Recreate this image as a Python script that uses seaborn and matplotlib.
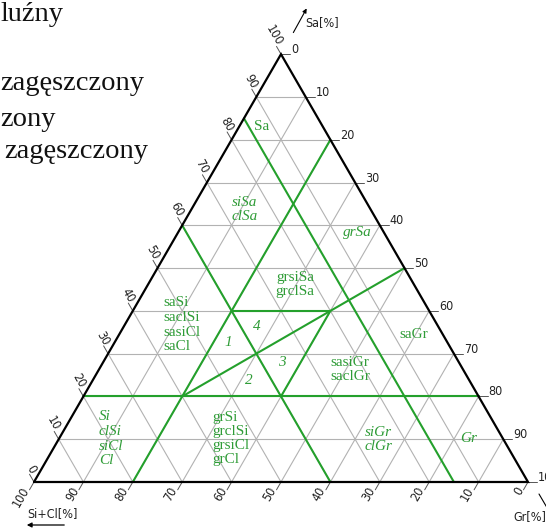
import numpy as np
import pandas as pd
import matplotlib
matplotlib.use("Agg")
import matplotlib.pyplot as plt
import seaborn as sns

sns.set_theme(style="white")
plt.rcParams['font.family'] = ['Liberation Serif', 'DejaVu Serif']

# ---------------- data ----------------
tick_values = list(range(0, 101, 10))          # axis tick labels
grid_values = list(range(10, 100, 10))         # grid lines every 10 %

# class boundaries, given as (Sa, Gr) start and end points in %
boundary_sa_start = [20, 40, 60, 85, 0, 20, 20]
boundary_gr_start = [0, 20, 0, 0, 20, 20, 40]
boundary_sa_end = [20, 40, 0, 0, 80, 50, 40]
boundary_gr_end = [80, 40, 60, 85, 20, 50, 40]

# soil class names (one list per field) and their anchor (Sa, Gr) in %
class_names = [
    ["Sa"], ["siSa", "clSa"], ["grSa"], ["grsiSa", "grclSa"],
    ["saSi", "saclSi", "sasiCl", "saCl"], ["1"], ["2"], ["3"], ["4"],
    ["sasiGr", "saclGr"], ["saGr"], ["Si", "clSi", "siCl", "Cl"],
    ["grSi", "grclSi", "grsiCl", "grCl"], ["siGr", "clGr"], ["Gr"],
]
legend_words = ["luźny", "zagęszczony", "zony", "zagęszczony"]

# ---------------- helpers ----------------
S = np.sqrt(3) / 2
PXU = 494.0  # pixels per triangle side


def to_xy(sa, gr):
    sa = np.asarray(sa, float) / 100.0
    gr = np.asarray(gr, float) / 100.0
    return gr + sa / 2, sa * S


def px(x, y):
    return (x - 34) / PXU, (482 - y) / PXU


fig = plt.figure(figsize=(5.46, 5.30), dpi=100)
ax = fig.add_axes([0, 0, 1, 1])
ax.set_xlim(-34 / PXU, 512 / PXU)
ax.set_ylim(-48 / PXU, 482 / PXU)
ax.axis("off")

# ---------------- grid ----------------
rows = []
seg = 0
for v in grid_values:
    for (sa0, gr0, sa1, gr1) in [(v, 0, v, 100 - v), (0, v, 100 - v, v), (100 - v, 0, 0, 100 - v)]:
        x0, y0 = to_xy(sa0, gr0)
        x1, y1 = to_xy(sa1, gr1)
        rows += [dict(x=x0, y=y0, seg=seg), dict(x=x1, y=y1, seg=seg)]
        seg += 1
grid_df = pd.DataFrame(rows)
sns.lineplot(data=grid_df, x="x", y="y", units="seg", estimator=None, sort=False,
             color="#b2b2b2", linewidth=0.8, ax=ax, legend=False)

# ---------------- boundaries ----------------
rows = []
for i in range(len(boundary_sa_start)):
    x0, y0 = to_xy(boundary_sa_start[i], boundary_gr_start[i])
    x1, y1 = to_xy(boundary_sa_end[i], boundary_gr_end[i])
    rows += [dict(x=x0, y=y0, seg=i), dict(x=x1, y=y1, seg=i)]
bnd_df = pd.DataFrame(rows)
sns.lineplot(data=bnd_df, x="x", y="y", units="seg", estimator=None, sort=False,
             color="#24a02c", linewidth=1.5, ax=ax, legend=False)

# ---------------- outline ----------------
ox, oy = to_xy([0, 0, 100, 0], [0, 100, 0, 0])
ax.plot(ox, oy, color="black", linewidth=1.6, solid_joinstyle="miter", zorder=5)

# ---------------- ticks ----------------
tick_font = dict(family=["Liberation Sans Narrow", "DejaVu Sans"], fontstretch="condensed",
                 fontsize=9, color="#222222")
tl = 9 / PXU
for v in tick_values:
    # left edge (Sa)
    ex, ey = to_xy(v, 0)
    d = np.array([-0.5, S])
    tx, ty = ex + d[0] * tl, ey + d[1] * tl
    ax.plot([ex, tx], [ey, ty], color="#555555", lw=0.7)
    ax.text(tx, ty, str(v), rotation=-60, rotation_mode="anchor", ha="right", va="baseline", **tick_font)
    # right edge (Gr)
    ex, ey = to_xy(100 - v, v)
    tx, ty = ex + tl, ey
    ax.plot([ex, tx], [ey, ty], color="#555555", lw=0.7)
    ax.text(tx + 1 / PXU, ty + 1 / PXU, str(v), ha="left", va="baseline", **tick_font)
    # bottom edge (Si+Cl)
    ex, ey = to_xy(0, 100 - v)
    d = np.array([-0.5, -S])
    tx, ty = ex + d[0] * tl, ey + d[1] * tl
    ax.plot([ex, tx], [ey, ty], color="#555555", lw=0.7)
    ax.text(tx, ty, str(v), rotation=60, rotation_mode="anchor", ha="right", va="baseline", **tick_font)

# ---------------- axis titles ----------------
ax.text(*px(305, 23), "Sa[%]", ha="left", va="center", **tick_font)
ax.annotate("", xy=px(308, 6), xytext=px(292, 35),
            arrowprops=dict(arrowstyle="-|>", color="black", lw=0.8, mutation_scale=6))
ax.text(*px(513, 517), "Gr[%]", ha="left", va="center", **tick_font)
ax.plot(*zip(px(539, 494), px(556, 523)), color="black", lw=0.8)
ax.text(*px(27, 514), "Si+Cl[%]", ha="left", va="center", **tick_font)
ax.annotate("", xy=px(24, 525), xytext=px(67, 525),
            arrowprops=dict(arrowstyle="-|>", color="black", lw=0.9, mutation_scale=7))

# ---------------- class labels ----------------
green = "#2f9c37"
# (pixel anchor of first line, alignment, italic, line spacing px)
label_layout = [
    ((262, 127), "center", False, 0),
    ((245, 202), "center", True, 15),
    ((357, 233), "center", True, 0),
    ((295, 277), "center", False, 14),
    ((163, 303), "left", False, 14.5),
    ((228, 343), "center", True, 0),
    ((249, 381), "center", True, 0),
    ((282, 363), "center", True, 0),
    ((257, 327), "center", True, 0),
    ((330, 363), "left", False, 14),
    ((414, 335), "center", False, 0),
    ((99, 417), "left", True, 14.5),
    ((212, 418), "left", False, 14),
    ((365, 433), "left", True, 13),
    ((469, 438), "center", True, 0),
]
for names, (anchor, ha, ital, dy) in zip(class_names, label_layout):
    for k, name in enumerate(names):
        ax.text(*px(anchor[0], anchor[1] + k * dy), name, ha=ha, va="center",
                color=green, fontsize=11, style="italic" if ital else "normal",
                family=["Liberation Serif", "DejaVu Serif"], zorder=6)

# ---------------- top-left text ----------------
legend_pos = [(0, 21), (0, 90), (0, 126), (4, 158)]
for word, (x, y) in zip(legend_words, legend_pos):
    ax.text(*px(x, y), word, ha="left", va="baseline", fontsize=20.5, color="#111111",
            family=["Liberation Serif", "DejaVu Serif"])

fig.savefig("out.png", dpi=100)
